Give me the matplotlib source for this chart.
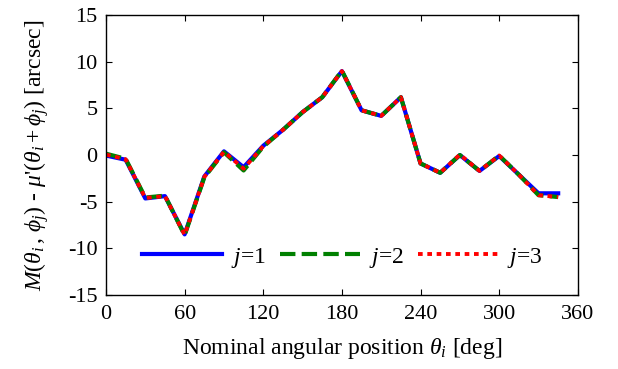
import numpy as np
import matplotlib
matplotlib.use("Agg")
import matplotlib.pyplot as plt

# nominal angular positions [deg]
theta = [0, 15, 30, 45, 60, 75, 90, 105, 120, 135, 150, 165,
         180, 195, 210, 225, 240, 255, 270, 285, 300, 315, 330, 345]

# residuals [arcsec] for each phase offset j
err_j1 = [-0.05, -0.5, -4.65, -4.4, -8.5, -2.3, 0.4, -1.3, 1.0, 2.7, 4.6, 6.2,
          9.0, 4.8, 4.2, 6.2, -0.9, -1.9, 0.0, -1.7, -0.1, -2.1, -4.1, -4.1]
err_j2 = [0.15, -0.4, -4.55, -4.35, -8.6, -2.4, 0.3, -1.65, 0.9, 2.7, 4.6, 6.2,
          9.05, 4.8, 4.2, 6.2, -0.9, -1.9, 0.0, -1.7, -0.05, -2.1, -4.3, -4.5]
err_j3 = [0.05, -0.45, -4.6, -4.4, -8.55, -2.35, 0.35, -1.45, 0.95, 2.7, 4.6, 6.2,
          9.0, 4.8, 4.2, 6.2, -0.9, -1.9, 0.05, -1.7, -0.05, -2.1, -4.3, -4.5]

plt.rcParams["font.family"] = "Liberation Serif"
plt.rcParams["mathtext.fontset"] = "custom"
plt.rcParams["mathtext.rm"] = "Liberation Serif"
plt.rcParams["mathtext.it"] = "Liberation Serif:italic"
plt.rcParams["axes.unicode_minus"] = False

fs_tick = 16
fs_lab = 17

fig = plt.figure(figsize=(6.18, 3.69), dpi=100)
ax = fig.add_axes([0.1715, 0.2005, 0.7635, 0.7585])

ax.plot(theta, err_j1, color="#0000ff", linestyle="-", linewidth=3.0, label="$j$=1")
ax.plot(theta, err_j2, color="#008000", linestyle=(0, (3.7, 1.5)), linewidth=3.0, label="$j$=2")
ax.plot(theta, err_j3, color="#ff0000", linestyle=(0, (1.2, 1.2)), linewidth=2.8, label="$j$=3")

ax.set_xlim(0, 360)
ax.set_ylim(-15, 15)
ax.set_xticks(np.arange(0, 361, 60))
ax.set_yticks(np.arange(-15, 16, 5))
ax.tick_params(direction="in", top=True, right=True, length=4, width=0.8,
               labelsize=fs_tick)
ax.tick_params(axis="x", pad=7)
ax.tick_params(axis="y", pad=6)
for s in ax.spines.values():
    s.set_linewidth(1.0)

ax.set_xlabel(r"Nominal angular position $\theta_i$ [deg]", fontsize=fs_lab, labelpad=9)
ax.set_ylabel(r"$M(\theta_i\,,\,\phi_j)$ - $\mu$'$(\theta_i + \phi_j)$ [arcsec]",
              fontsize=fs_lab, labelpad=12)

ax.legend(loc="lower center", bbox_to_anchor=(0.5, 0.015), ncol=3, frameon=False,
          fontsize=fs_lab, handlelength=3.4, handletextpad=0.35, columnspacing=0.62)

fig.savefig("out.png", dpi=100)
